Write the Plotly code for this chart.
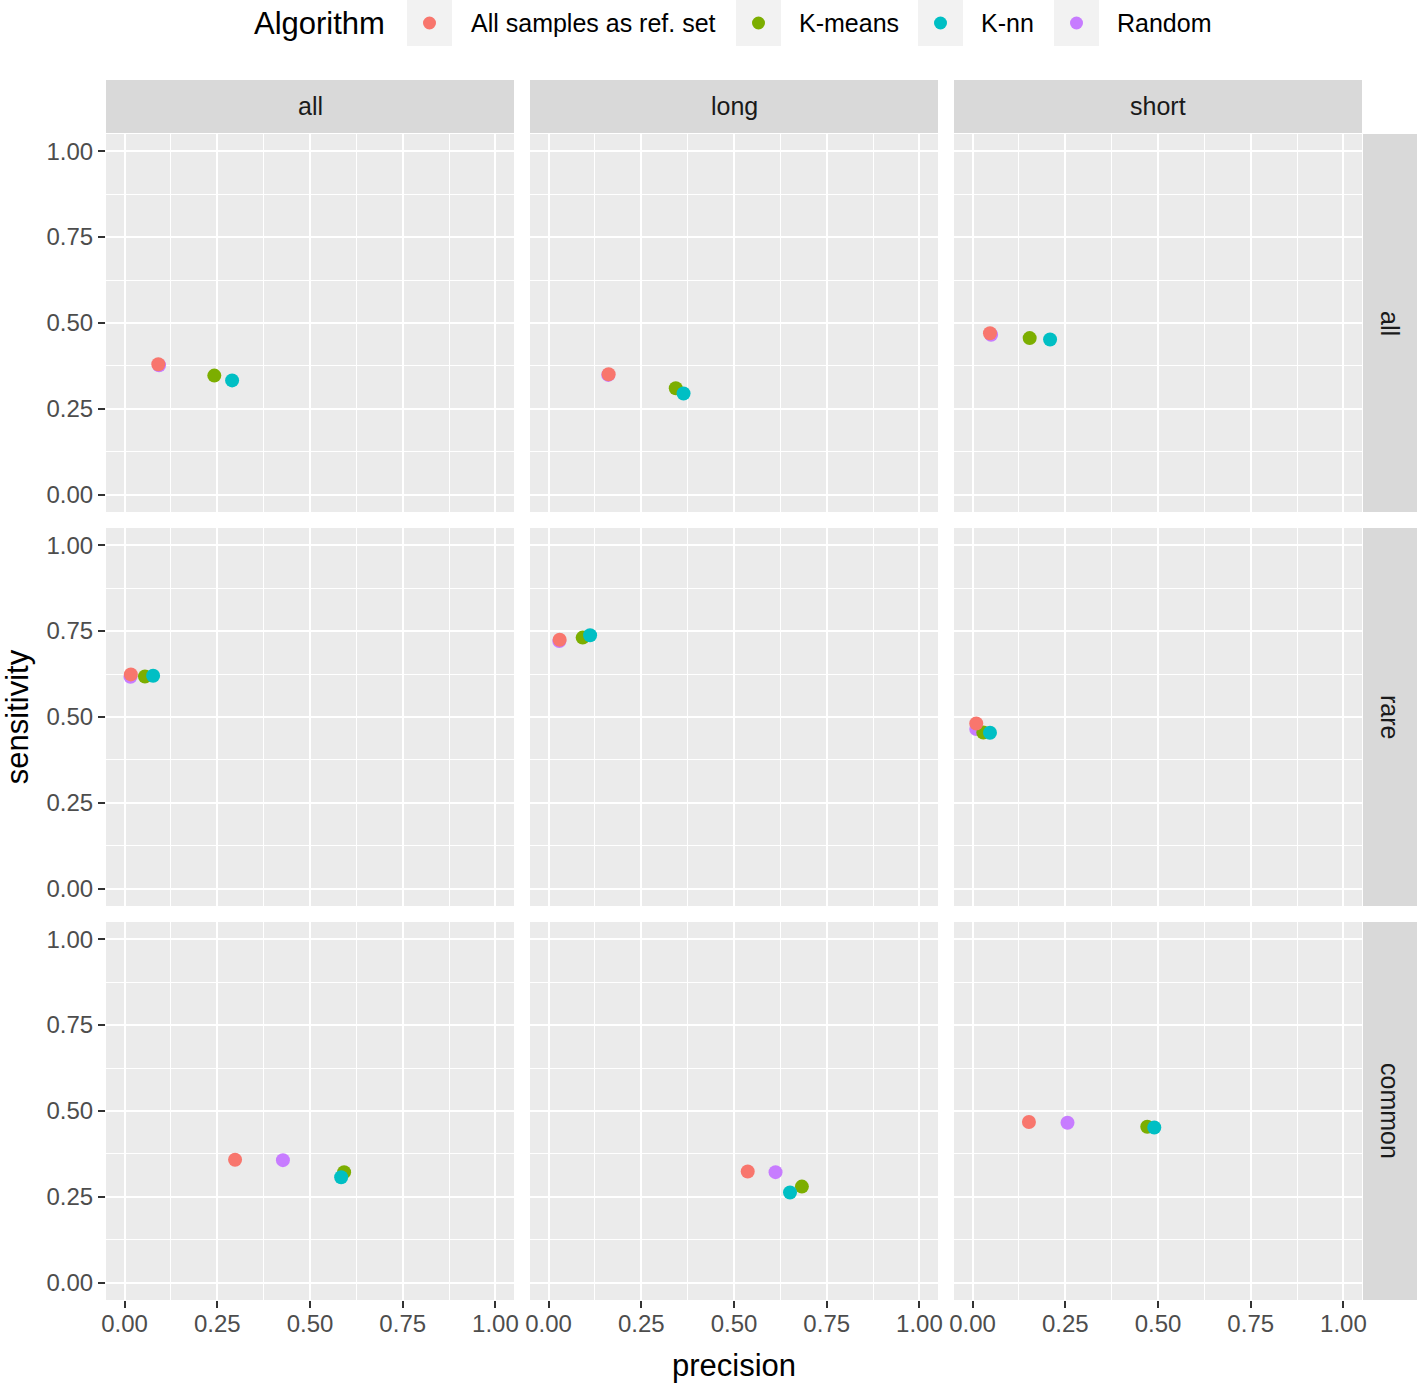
import plotly.graph_objects as go

# ---------------- data ----------------
row_labels = ["all", "rare", "common"]
col_labels = ["all", "long", "short"]
algorithms = ["All samples as ref. set", "K-means", "K-nn", "Random"]
colors = ["#F8766D", "#7CAE00", "#00BFC4", "#C77CFF"]

# values per panel in order (row, col): (all,all),(all,long),(all,short),(rare,...),(common,...)
prec_all_samples = [0.091, 0.162, 0.047, 0.017, 0.030, 0.010, 0.298, 0.537, 0.152]
sens_all_samples = [0.380, 0.351, 0.470, 0.624, 0.725, 0.481, 0.358, 0.324, 0.468]
prec_kmeans = [0.242, 0.343, 0.154, 0.055, 0.092, 0.029, 0.592, 0.683, 0.471]
sens_kmeans = [0.347, 0.310, 0.456, 0.618, 0.731, 0.455, 0.322, 0.280, 0.454]
prec_knn = [0.290, 0.364, 0.209, 0.077, 0.112, 0.047, 0.584, 0.651, 0.490]
sens_knn = [0.333, 0.295, 0.452, 0.620, 0.738, 0.454, 0.307, 0.263, 0.452]
prec_random = [0.093, 0.161, 0.050, 0.016, 0.029, 0.010, 0.427, 0.612, 0.256]
sens_random = [0.377, 0.349, 0.466, 0.617, 0.721, 0.465, 0.357, 0.322, 0.466]

tick_vals = [0, 0.25, 0.5, 0.75, 1.0]
tick_text = ["0.00", "0.25", "0.50", "0.75", "1.00"]
minor_vals = [0.125, 0.375, 0.625, 0.875]

series = {
    "All samples as ref. set": (prec_all_samples, sens_all_samples),
    "K-means": (prec_kmeans, sens_kmeans),
    "K-nn": (prec_knn, sens_knn),
    "Random": (prec_random, sens_random),
}
draw_order = ["Random", "K-means", "K-nn", "All samples as ref. set"]

# ---------------- layout geometry ----------------
W, H = 1417, 1383
FONT = "Liberation Sans, Arial, sans-serif"
col_px = [(106, 514), (530, 938), (954, 1362)]
row_px = [(134, 512), (528, 906), (922, 1300)]

def px_x(x):
    return x / W

def px_y(y):
    return 1 - y / H

fig = go.Figure()
layout = dict(
    width=W, height=H, margin=dict(l=0, r=0, t=0, b=0, pad=0), autosize=False,
    paper_bgcolor="white", plot_bgcolor="#EBEBEB",
    showlegend=False, font=dict(family=FONT, color="black"),
)

shapes = []
annotations = []

for r in range(3):
    for c in range(3):
        k = r * 3 + c
        idx = k + 1
        xa = "x" if idx == 1 else f"x{idx}"
        ya = "y" if idx == 1 else f"y{idx}"
        xkey = "xaxis" if idx == 1 else f"xaxis{idx}"
        ykey = "yaxis" if idx == 1 else f"yaxis{idx}"
        x0, x1 = col_px[c]
        y0, y1 = row_px[r]
        show_x = r == 2
        show_y = c == 0
        layout[xkey] = dict(
            domain=[px_x(x0), px_x(x1)], range=[-0.05, 1.05], anchor=ya, automargin=False,
            tickvals=tick_vals, ticktext=tick_text, showticklabels=show_x,
            ticks="outside" if show_x else "", ticklen=7, tickwidth=2, tickcolor="#333333",
            ticklabelstandoff=-5,
            tickfont=dict(size=24, color="#4D4D4D", family=FONT),
            showgrid=True, gridcolor="white", gridwidth=2.4, zeroline=False, showline=False,
            minor=dict(tickvals=minor_vals, showgrid=True, gridcolor="white", gridwidth=1.2, ticks=""),
            fixedrange=True,
        )
        layout[ykey] = dict(
            domain=[px_y(y1), px_y(y0)], range=[-0.05, 1.05], anchor=xa, automargin=False,
            tickvals=tick_vals, ticktext=tick_text, showticklabels=show_y,
            ticks="outside" if show_y else "", ticklen=7, tickwidth=2, tickcolor="#333333",
            tickfont=dict(size=24, color="#4D4D4D", family=FONT),
            showgrid=True, gridcolor="white", gridwidth=2.4, zeroline=False, showline=False,
            minor=dict(tickvals=minor_vals, showgrid=True, gridcolor="white", gridwidth=1.2, ticks=""),
            fixedrange=True,
        )
        if r == 2 and c == 1:
            layout[xkey]["title"] = dict(text="precision", font=dict(size=31, color="black", family=FONT), standoff=18)
        if r == 1 and c == 0:
            layout[ykey]["title"] = dict(text="sensitivity", font=dict(size=31, color="black", family=FONT), standoff=19)

        for alg in draw_order:
            px_vals, sy_vals = series[alg]
            fig.add_trace(go.Scatter(
                x=[px_vals[k]], y=[sy_vals[k]], mode="markers", name=alg,
                marker=dict(size=14, color=colors[algorithms.index(alg)], line=dict(width=0)),
                xaxis=xa, yaxis=ya, showlegend=False,
            ))

# strips
for c, (x0, x1) in enumerate(col_px):
    shapes.append(dict(type="rect", xref="paper", yref="paper", x0=px_x(x0), x1=px_x(x1),
                       y0=px_y(133), y1=px_y(80), fillcolor="#D9D9D9", line=dict(width=0), layer="below"))
    annotations.append(dict(text=col_labels[c], xref="paper", yref="paper", x=px_x((x0 + x1) / 2),
                            y=px_y(106.5), showarrow=False, font=dict(size=25, color="#1A1A1A", family=FONT),
                            xanchor="center", yanchor="middle"))
for r, (y0, y1) in enumerate(row_px):
    shapes.append(dict(type="rect", xref="paper", yref="paper", x0=px_x(1363), x1=px_x(1417),
                       y0=px_y(y1), y1=px_y(y0), fillcolor="#D9D9D9", line=dict(width=0), layer="below"))
    annotations.append(dict(text=row_labels[r], xref="paper", yref="paper", x=px_x(1390),
                            y=px_y((y0 + y1) / 2), showarrow=False, textangle=90,
                            font=dict(size=25, color="#1A1A1A", family=FONT),
                            xanchor="center", yanchor="middle"))

# legend (drawn manually to match ggplot layout)
annotations.append(dict(text="Algorithm", xref="paper", yref="paper", x=px_x(252), y=px_y(23),
                        showarrow=False, xanchor="left", yanchor="middle",
                        font=dict(size=31, color="black", family=FONT)))
key_boxes = [(407, 452), (736, 781), (918, 963), (1054, 1099)]
label_x = [469, 797, 979, 1115]
for i, alg in enumerate(algorithms):
    bx0, bx1 = key_boxes[i]
    shapes.append(dict(type="rect", xref="paper", yref="paper", x0=px_x(bx0), x1=px_x(bx1),
                       y0=px_y(46), y1=px_y(0), fillcolor="#F2F2F2", line=dict(width=0)))
    cx = (bx0 + bx1) / 2
    shapes.append(dict(type="circle", xref="paper", yref="paper", x0=px_x(cx - 6.5), x1=px_x(cx + 6.5),
                       y0=px_y(29.5), y1=px_y(16.5), fillcolor=colors[i], line=dict(width=0)))
    annotations.append(dict(text=alg, xref="paper", yref="paper", x=px_x(label_x[i]), y=px_y(23),
                            showarrow=False, xanchor="left", yanchor="middle",
                            font=dict(size=25, color="black", family=FONT)))

layout["shapes"] = shapes
layout["annotations"] = annotations
fig.update_layout(**layout)
fig.write_html("out.html", config={"displayModeBar": False},
               post_script="document.body.style.margin='0';document.body.style.overflow='hidden';")
